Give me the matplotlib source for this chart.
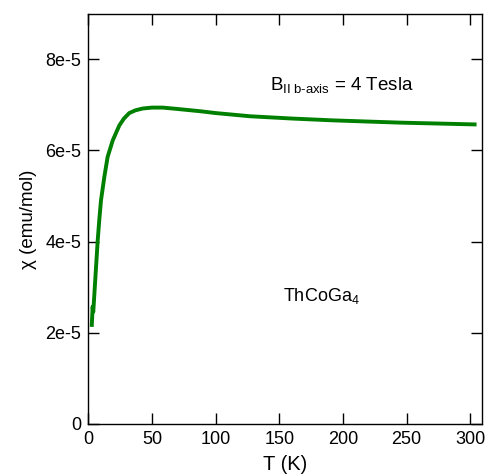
import matplotlib
matplotlib.use('Agg')
import matplotlib.pyplot as plt
import numpy as np

plt.rcParams['font.family'] = ['Liberation Sans', 'DejaVu Sans']
plt.rcParams['mathtext.fontset'] = 'custom'
plt.rcParams['mathtext.rm'] = 'Liberation Sans'
plt.rcParams['mathtext.it'] = 'Liberation Sans'

# susceptibility (T in K, chi in emu/mol)
T = [2.7, 3.4, 3.9, 5.0, 6.1, 7.4, 8.7, 10.0, 12.6, 15.2, 19.2, 24.4, 28, 32.2,
     37, 42.7, 50, 58.5, 70, 88, 100, 127, 160, 192, 245, 305]
chi = [2.13, 2.57, 2.46, 2.95, 3.45, 4.03, 4.50, 4.91, 5.42, 5.86, 6.22, 6.55,
       6.70, 6.82, 6.88, 6.92, 6.94, 6.94, 6.91, 6.86, 6.82, 6.75, 6.70, 6.66,
       6.61, 6.57]
chi = np.array(chi) * 1e-5

yticks = [0, 2e-5, 4e-5, 6e-5, 8e-5]
ytick_labels = ['0', '2e-5', '4e-5', '6e-5', '8e-5']
xticks = [0, 50, 100, 150, 200, 250, 300]

fig = plt.figure(figsize=(4.87, 4.75), dpi=100)
ax = fig.add_axes([0.1813, 0.1074, 0.8077, 0.8638])

ax.plot(T, chi, color='#008000', linewidth=2.8, solid_capstyle='butt',
        solid_joinstyle='round')

ax.set_xlim(0, 309)
ax.set_ylim(0, 9e-5)
ax.set_xticks(xticks)
ax.set_yticks(yticks)
ax.set_yticklabels(ytick_labels)
ax.tick_params(direction='in', length=8, width=1, top=True, right=True,
               labelsize=13, pad=5)
for s in ax.spines.values():
    s.set_linewidth(1)

ax.set_xlabel('T (K)', fontsize=14.5, labelpad=5)
ax.set_ylabel('\u03c7 (emu/mol)', fontsize=13.5, labelpad=6)

ax.text(143, 7.43e-5, r'B$_{\mathregular{II\ b\text{-}axis}}$ = 4 Tesla',
        fontsize=13.5, ha='left', va='center')
ax.text(153, 2.8e-5, r'ThCoGa$_4$', fontsize=13, ha='left', va='center')

fig.savefig('out.png', dpi=100)
